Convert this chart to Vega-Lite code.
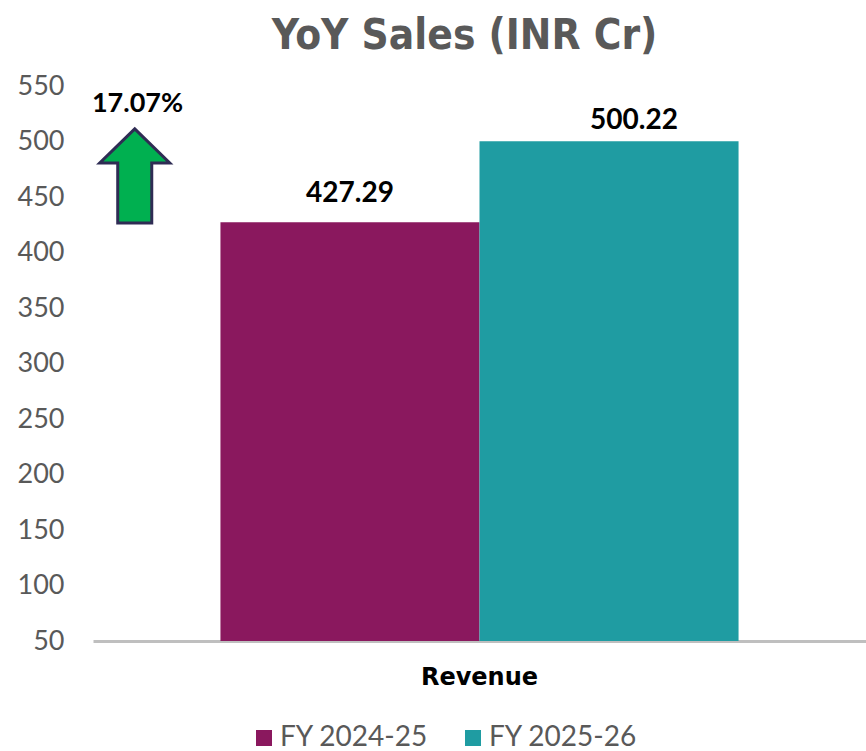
{
  "$schema": "https://vega.github.io/schema/vega-lite/v6.json",
  "width": 773,
  "height": 555,
  "autosize": {"type": "none"},
  "padding": {"left": 93, "top": 86, "right": 0, "bottom": 110},
  "background": "white",
  "title": {
    "text": "YoY Sales (INR Cr)",
    "font": "DejaVu Sans Condensed",
    "fontSize": 42,
    "fontWeight": "bold",
    "color": "#595959",
    "anchor": "middle",
    "frame": "group",
    "offset": 14,
    "dx": -15
  },
  "config": {"view": {"stroke": null}},
  "datasets": {
    "sales": [
      {"category": "Revenue", "series": "FY 2024-25", "value": 427.29},
      {"category": "Revenue", "series": "FY 2025-26", "value": 500.22}
    ],
    "growth": [{"change": "17.07%"}]
  },
  "resolve": {"scale": {"x": "independent"}},
  "layer": [
    {
      "data": {"name": "sales"},
      "mark": {"type": "bar"},
      "encoding": {
        "x": {
          "field": "category",
          "type": "nominal",
          "scale": {"paddingInner": 0, "paddingOuter": 0.246},
          "axis": {
            "title": null,
            "labelAngle": 0,
            "labelFont": "DejaVu Sans",
            "labelFontWeight": "bold",
            "labelFontSize": 24,
            "labelColor": "#000000",
            "labelPadding": 24,
            "ticks": false,
            "domainColor": "#BFBFBF",
            "domainWidth": 3
          }
        },
        "xOffset": {"field": "series", "type": "nominal", "scale": {"paddingInner": 0, "paddingOuter": 0}},
        "y": {
          "field": "value",
          "type": "quantitative",
          "scale": {"domain": [50, 550], "nice": false, "zero": false},
          "axis": {
            "title": null,
            "values": [50, 100, 150, 200, 250, 300, 350, 400, 450, 500, 550],
            "grid": false,
            "domain": false,
            "ticks": false,
            "labelFont": "Lato",
            "labelFontSize": 27,
            "labelColor": "#595959",
            "labelPadding": 29
          }
        },
        "y2": {"datum": 50},
        "color": {
          "field": "series",
          "type": "nominal",
          "scale": {"domain": ["FY 2024-25", "FY 2025-26"], "range": ["#8A185E", "#1F9CA2"]},
          "legend": {
            "orient": "none",
            "legendX": 157,
            "legendY": 638,
            "title": null,
            "direction": "horizontal",
            "symbolType": "square",
            "symbolSize": 256,
            "symbolStrokeWidth": 0,
            "labelFont": "Lato",
            "labelFontSize": 28,
            "labelColor": "#595959",
            "columnPadding": 30,
            "labelOffset": 2
          }
        }
      }
    },
    {
      "data": {"name": "sales"},
      "transform": [{"filter": "datum.series === 'FY 2024-25'"}],
      "mark": {"type": "text", "baseline": "alphabetic", "dy": -20, "fontWeight": "bold", "fontSize": 28, "font": "Lato", "color": "#000000"},
      "encoding": {
        "x": {"field": "category", "type": "nominal", "scale": {"paddingInner": 0, "paddingOuter": 0.246}, "axis": null},
        "xOffset": {"field": "series", "type": "nominal", "scale": {"domain": ["FY 2024-25", "FY 2025-26"], "paddingInner": 0, "paddingOuter": 0}},
        "y": {"field": "value", "type": "quantitative"},
        "text": {"field": "value", "type": "quantitative", "format": ".2f"}
      }
    },
    {
      "data": {"name": "sales"},
      "transform": [{"filter": "datum.series === 'FY 2025-26'"}],
      "mark": {"type": "text", "baseline": "alphabetic", "dy": -12, "dx": 25, "fontWeight": "bold", "fontSize": 28, "font": "Lato", "color": "#000000"},
      "encoding": {
        "x": {"field": "category", "type": "nominal", "scale": {"paddingInner": 0, "paddingOuter": 0.246}, "axis": null},
        "xOffset": {"field": "series", "type": "nominal", "scale": {"domain": ["FY 2024-25", "FY 2025-26"], "paddingInner": 0, "paddingOuter": 0}},
        "y": {"field": "value", "type": "quantitative"},
        "text": {"field": "value", "type": "quantitative", "format": ".2f"}
      }
    },
    {
      "data": {"name": "growth"},
      "mark": {
        "type": "point",
        "shape": "M0,-1 L0.745,-0.277 L0.362,-0.277 L0.362,1 L-0.362,1 L-0.362,-0.277 L-0.745,-0.277 Z",
        "filled": true,
        "fill": "#00B050",
        "stroke": "#2F2C54",
        "strokeWidth": 3,
        "size": 8836,
        "opacity": 1
      },
      "encoding": {
        "x": {"datum": 0.054, "type": "quantitative", "scale": {"domain": [0, 1]}, "axis": null},
        "y": {"datum": 469, "type": "quantitative"}
      }
    },
    {
      "data": {"name": "growth"},
      "mark": {"type": "text", "fontWeight": "bold", "fontSize": 27, "font": "Lato", "color": "#000000", "baseline": "alphabetic"},
      "encoding": {
        "x": {"datum": 0.0576, "type": "quantitative", "scale": {"domain": [0, 1]}, "axis": null},
        "y": {"datum": 526.6, "type": "quantitative"},
        "text": {"field": "change", "type": "nominal"}
      }
    }
  ]
}
